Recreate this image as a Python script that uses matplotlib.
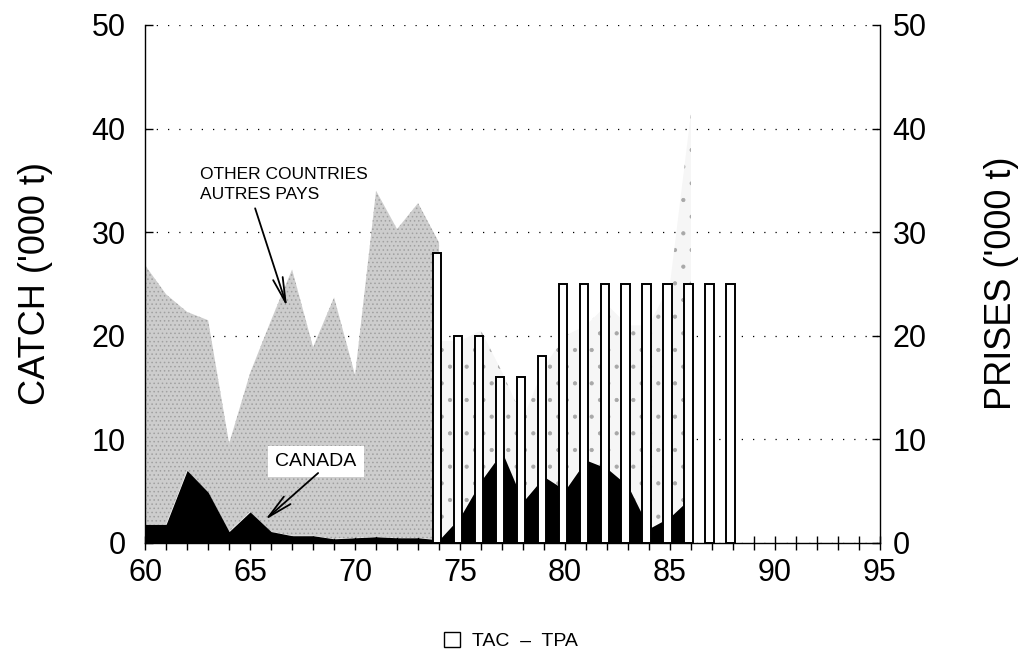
import numpy as np
import matplotlib.pyplot as plt
from matplotlib.patches import Patch

plt.rcParams['font.family'] = ['Liberation Sans', 'DejaVu Sans']
plt.rcParams['hatch.linewidth'] = 0.6

# catches in '000 t, by year (19xx)
years = np.arange(60, 87)
canada = [1.8, 1.8, 7.0, 4.9, 1.1, 3.0, 1.1, 0.7, 0.7, 0.4, 0.5, 0.6, 0.5, 0.5, 0.3,
          2.5, 6.0, 8.8, 4.0, 6.4, 5.1, 8.0, 7.2, 5.5, 1.4, 2.5, 4.4]

# other countries, before and after extension of jurisdiction
other_years_a = np.arange(60, 75)
other_a = [25.0, 22.2, 15.3, 16.6, 8.5, 13.4, 20.4, 25.7, 18.2, 23.3, 15.7, 33.4, 29.8, 32.3, 28.7]
other_years_b = np.arange(74, 87)
other_b = [19.2, 17.0, 14.5, 7.7, 8.0, 10.6, 14.9, 13.0, 15.8, 15.5, 19.6, 22.5, 37.1]

# total allowable catch
tac_years = np.arange(74, 89)
tac = [28, 20, 20, 16, 16, 18, 25, 25, 25, 25, 25, 25, 25, 25, 25]

fig = plt.figure(figsize=(10.22, 6.53), dpi=100)
ax = fig.add_axes([0.142, 0.1685, 0.719, 0.7933])

can = np.array(canada)
can_a = can[:len(other_years_a)]
can_b = can[len(other_years_a) - 1:]

ax.fill_between(years, 0, can, color='black', lw=0, zorder=2)
ax.fill_between(other_years_a, can_a, can_a + np.array(other_a),
                facecolor='#cdcdcd', edgecolor='#a0a0a0', hatch='....', lw=0, zorder=1)
ax.fill_between(other_years_b, can_b, can_b + np.array(other_b),
                facecolor='#f6f6f6', edgecolor='#a8a8a8', hatch='.', lw=0, zorder=1)

ax.bar(tac_years - 0.1, tac, width=0.42, facecolor='white', edgecolor='black',
       lw=1.4, zorder=3)

ax.set_xlim(60, 95)
ax.set_ylim(0, 50)
ax.set_axisbelow(True)
ax.yaxis.grid(True, color='black', lw=0.9, linestyle=(0, (1, 8)))

ax.set_xticks(np.arange(60, 96, 5))
ax.set_xticks(np.arange(60, 96, 1), minor=True)
ax.set_yticks(np.arange(0, 51, 10))
ax.tick_params(axis='x', which='both', direction='inout', length=10, width=1.0,
               labelsize=22, pad=6)
ax.tick_params(axis='y', direction='in', length=6, width=1.0, labelsize=22, pad=14)

for side in ['top', 'right']:
    ax.spines[side].set_visible(False)
for side in ['left', 'bottom']:
    ax.spines[side].set_linewidth(1.0)

ax2 = ax.twinx()
ax2.set_ylim(0, 50)
ax2.set_yticks(np.arange(0, 51, 10))
ax2.tick_params(axis='y', direction='in', length=6, width=1.0, labelsize=22, pad=9)
for side in ['top', 'left', 'bottom']:
    ax2.spines[side].set_visible(False)
ax2.spines['right'].set_linewidth(1.0)

fig.text(36 / 1022, 1 - 284 / 653, "CATCH ('000 t)", rotation=90, fontsize=26,
         ha='center', va='center')
fig.text(1001 / 1022, 1 - 283 / 653, "PRISES ('000 t)", rotation=90, fontsize=26,
         ha='center', va='center')

arrow = dict(arrowstyle='->,head_length=0.9,head_width=0.18', lw=1.3,
             color='black', mutation_scale=20, shrinkA=0, shrinkB=0)
ax.text(62.6, 34.6, 'OTHER COUNTRIES\nAUTRES PAYS', fontsize=12.5, ha='left',
        va='center', linespacing=1.35, zorder=5)
ax.annotate('', xy=(66.76, 22.8), xytext=(65.24, 32.3), arrowprops=arrow, zorder=5)

ax.text(68.14, 7.9, 'CANADA', fontsize=14, ha='center', va='center', zorder=5,
        bbox=dict(facecolor='white', edgecolor='none', pad=5))
ax.annotate('', xy=(65.71, 2.22), xytext=(68.24, 6.75), arrowprops=arrow, zorder=5)

fig.legend(handles=[Patch(facecolor='white', edgecolor='black', lw=1.0)],
           labels=['TAC  \u2013  TPA'], loc='center', bbox_to_anchor=(0.5, 1 - 641 / 653),
           frameon=False, fontsize=14, handlelength=0.8, handleheight=0.8,
           handletextpad=0.6)

fig.savefig('out.png', dpi=100)
